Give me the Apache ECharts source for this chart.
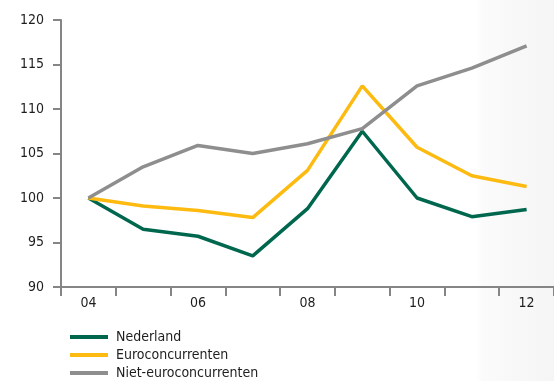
<!DOCTYPE html>
<html>
<head>
<meta charset="utf-8">
<script src="https://cdn.jsdelivr.net/npm/echarts@6/dist/echarts.min.js"></script>
<style>
  html, body { margin: 0; padding: 0; background: #fff; }
  #chart { width: 554px; height: 381px; }
</style>
</head>
<body>
<div id="chart"></div>
<script>
// Index 2004 = 100
const years = ['04', '05', '06', '07', '08', '09', '10', '11', '12'];
const nederland = [100, 96.5, 95.7, 93.5, 98.8, 107.5, 100.0, 97.9, 98.7];
const euroconcurrenten = [100, 99.1, 98.6, 97.8, 103.1, 112.6, 105.7, 102.5, 101.3];
const nietEuroconcurrenten = [100, 103.5, 105.9, 105.0, 106.1, 107.8, 112.6, 114.6, 117.1];

const FONT = '"DejaVu Sans Condensed", "Liberation Sans Narrow", sans-serif';
const TEXT = '#1e1e1e';
const AXIS = '#858585';

const chart = echarts.init(document.getElementById('chart'), null, { renderer: 'canvas' });

function lineSeries(name, data, color) {
  return {
    name: name,
    type: 'line',
    data: data,
    symbol: 'none',
    smooth: false,
    lineStyle: { color: color, width: 3.5 },
    itemStyle: { color: color }
  };
}

chart.setOption({
  animation: false,
  backgroundColor: {
    type: 'linear', x: 0, y: 0, x2: 1, y2: 0,
    colorStops: [
      { offset: 0, color: '#ffffff' },
      { offset: 0.86, color: '#ffffff' },
      { offset: 0.87, color: '#fbfbfb' },
      { offset: 1, color: '#f5f5f5' }
    ]
  },
  grid: { left: 61, top: 20, bottom: 94, width: 495 },
  legend: {
    orient: 'vertical',
    left: 65,
    top: 325,
    height: 60,
    icon: 'rect',
    itemWidth: 38,
    itemHeight: 4,
    itemGap: 4,
    textStyle: { fontFamily: FONT, fontSize: 14, color: TEXT, padding: [0, 0, 0, 3] },
    data: ['Nederland', 'Euroconcurrenten', 'Niet-euroconcurrenten']
  },
  xAxis: {
    type: 'category',
    data: years,
    boundaryGap: true,
    axisLine: { lineStyle: { color: AXIS, width: 2 } },
    axisTick: { show: true, interval: 0, length: 9, lineStyle: { color: AXIS, width: 2 } },
    axisLabel: { interval: 1, margin: 9, fontFamily: FONT, fontSize: 14, color: TEXT }
  },
  yAxis: {
    type: 'value',
    min: 90,
    max: 120,
    interval: 5,
    splitLine: { show: false },
    axisLine: { show: true, lineStyle: { color: AXIS, width: 2 } },
    axisTick: { show: true, length: 8, lineStyle: { color: AXIS, width: 2 } },
    axisLabel: { margin: 17, fontFamily: FONT, fontSize: 14, color: TEXT }
  },
  series: [
    lineSeries('Nederland', nederland, '#00674F'),
    lineSeries('Euroconcurrenten', euroconcurrenten, '#FDBB12'),
    lineSeries('Niet-euroconcurrenten', nietEuroconcurrenten, '#8E8E8E')
  ]
});
</script>
</body>
</html>
